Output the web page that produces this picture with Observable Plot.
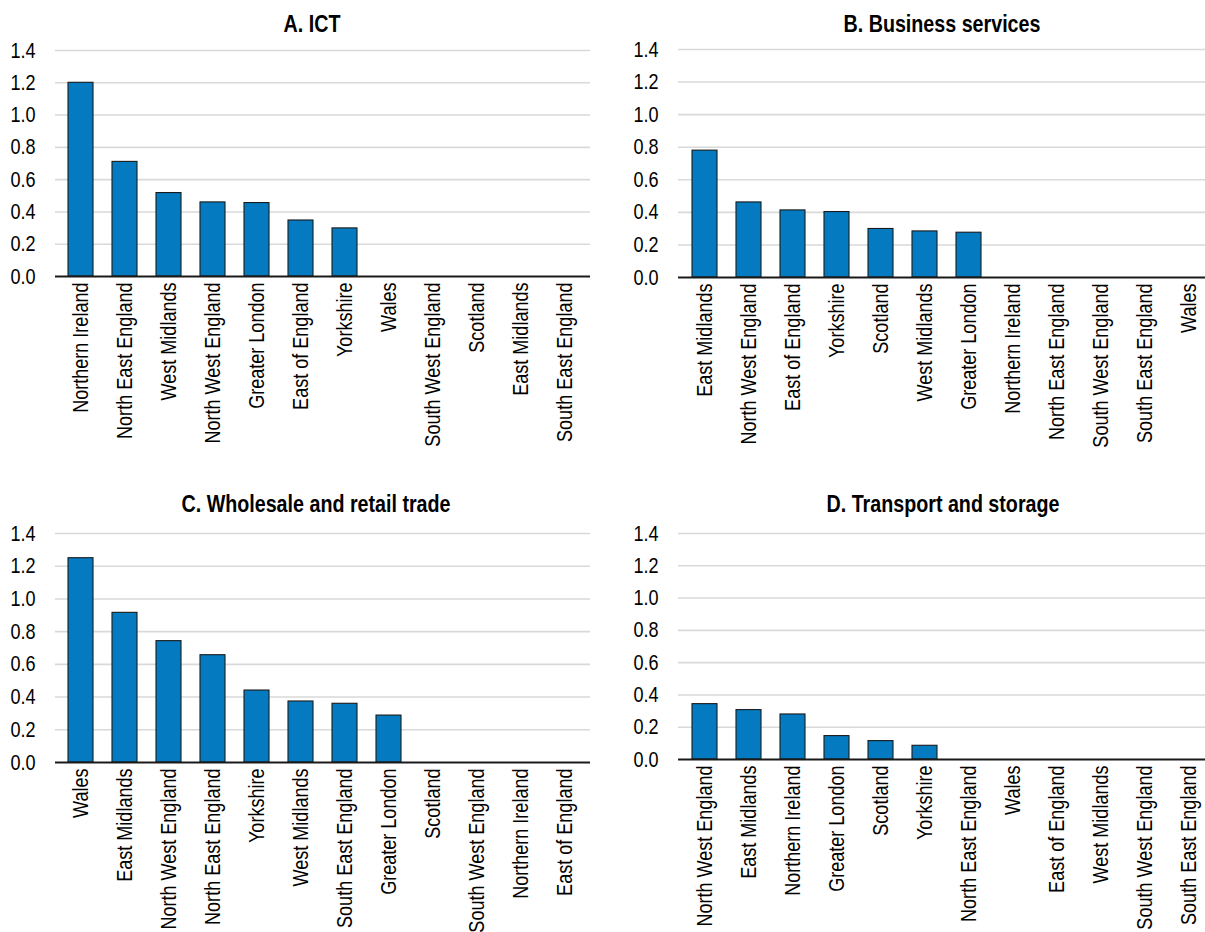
<!DOCTYPE html>
<html>
<head>
<meta charset="utf-8">
<script src="https://cdn.jsdelivr.net/npm/d3@7"></script>
<script src="https://cdn.jsdelivr.net/npm/@observablehq/plot@0.6"></script>
<style>
  html, body { margin: 0; padding: 0; background: #fff; overflow: hidden; }
  #root { position: relative; width: 1205px; height: 932px; overflow: hidden;
          font-family: "Liberation Sans", Arial, sans-serif; }
  .panel { position: absolute; }
  .title { position: absolute; width: 400px; text-align: center; font-weight: bold;
           font-size: 24px; line-height: 24px; color: #000; white-space: nowrap;
           transform: scaleX(0.82); transform-origin: 50% 50%; }
</style>
</head>
<body>
<div id="root"></div>
<script>
// ---- Data ----
const titleA = "A. ICT";
const regionsA = ["Northern Ireland", "North East England", "West Midlands", "North West England", "Greater London", "East of England", "Yorkshire", "Wales", "South West England", "Scotland", "East Midlands", "South East England"];
const valuesA = [1.20, 0.71, 0.517, 0.459, 0.455, 0.347, 0.298, 0, 0, 0, 0, 0];

const titleB = "B. Business services";
const regionsB = ["East Midlands", "North West England", "East of England", "Yorkshire", "Scotland", "West Midlands", "Greater London", "Northern Ireland", "North East England", "South West England", "South East England", "Wales"];
const valuesB = [0.779, 0.461, 0.412, 0.402, 0.298, 0.283, 0.275, 0, 0, 0, 0, 0];

const titleC = "C. Wholesale and retail trade";
const regionsC = ["Wales", "East Midlands", "North West England", "North East England", "Yorkshire", "West Midlands", "South East England", "Greater London", "Scotland", "South West England", "Northern Ireland", "East of England"];
const valuesC = [1.249, 0.915, 0.742, 0.656, 0.44, 0.373, 0.359, 0.287, 0, 0, 0, 0];

const titleD = "D. Transport and storage";
const regionsD = ["North West England", "East Midlands", "Northern Ireland", "Greater London", "Scotland", "Yorkshire", "North East England", "Wales", "East of England", "West Midlands", "South West England", "South East England"];
const valuesD = [0.343, 0.306, 0.279, 0.145, 0.114, 0.085, 0, 0, 0, 0, 0, 0];

const yTicks = [0, 0.2, 0.4, 0.6, 0.8, 1.0, 1.2, 1.4];

// ---- Layout (presentation only) ----
const FONT = '"Liberation Sans", Arial, sans-serif';
const NARROW = 0.82; // emulate a condensed face
const panels = [
  {title: titleA, regions: regionsA, values: valuesA, left: 0,   top: 30,  width: 600, height: 445, mt: 20, mb: 199, ml: 55, mr: 10, titleX: 312, titleY: 12},
  {title: titleB, regions: regionsB, values: valuesB, left: 600, top: 30,  width: 614, height: 445, mt: 19, mb: 198, ml: 78, mr: 0,  titleX: 942, titleY: 12},
  {title: titleC, regions: regionsC, values: valuesC, left: 0,   top: 510, width: 600, height: 422, mt: 23, mb: 170, ml: 55, mr: 10, titleX: 316, titleY: 492},
  {title: titleD, regions: regionsD, values: valuesD, left: 600, top: 510, width: 614, height: 422, mt: 23, mb: 173, ml: 78, mr: 0,  titleX: 943, titleY: 492}
];

const root = document.getElementById("root");

function narrowTexts(svg) {
  svg.querySelectorAll("text").forEach(t => {
    const L = t.getComputedTextLength();
    if (L > 0) {
      t.setAttribute("textLength", (L * NARROW).toFixed(2));
      t.setAttribute("lengthAdjust", "spacingAndGlyphs");
    }
  });
}

for (const p of panels) {
  const data = p.regions.map((r, i) => ({region: r, value: p.values[i]}));
  const chart = Plot.plot({
    width: p.width,
    height: p.height,
    marginTop: p.mt,
    marginBottom: p.mb,
    marginLeft: p.ml,
    marginRight: p.mr,
    style: {fontFamily: FONT, color: "#000", background: "transparent", overflow: "visible"},
    x: {domain: p.regions, paddingInner: 0.44, paddingOuter: 0.22, align: 0.5},
    y: {domain: [0, 1.4]},
    marks: [
      Plot.ruleY(yTicks.filter(d => d > 0), {stroke: "#d9d9d9", strokeWidth: 1.6}),
      Plot.barY(data, {x: "region", y: "value", fill: "#047bc1", stroke: "#1a1a1a", strokeWidth: 1.1}),
      Plot.ruleY([0], {stroke: "#1a1a1a", strokeWidth: 2}),
      Plot.axisY({ticks: yTicks, tickFormat: d3.format(".1f"), tickSize: 0, tickPadding: 20, fontSize: 22, label: null}),
      Plot.axisX({tickRotate: -90, tickSize: 0, tickPadding: 6, fontSize: 22, label: null})
    ]
  });
  chart.classList.add("panel");
  chart.style.left = p.left + "px";
  chart.style.top = p.top + "px";
  chart.style.position = "absolute";
  root.appendChild(chart);
  narrowTexts(chart);

  const t = document.createElement("div");
  t.className = "title";
  t.textContent = p.title;
  t.style.left = (p.titleX - 200) + "px";
  t.style.top = p.titleY + "px";
  root.appendChild(t);
}
</script>
</body>
</html>
